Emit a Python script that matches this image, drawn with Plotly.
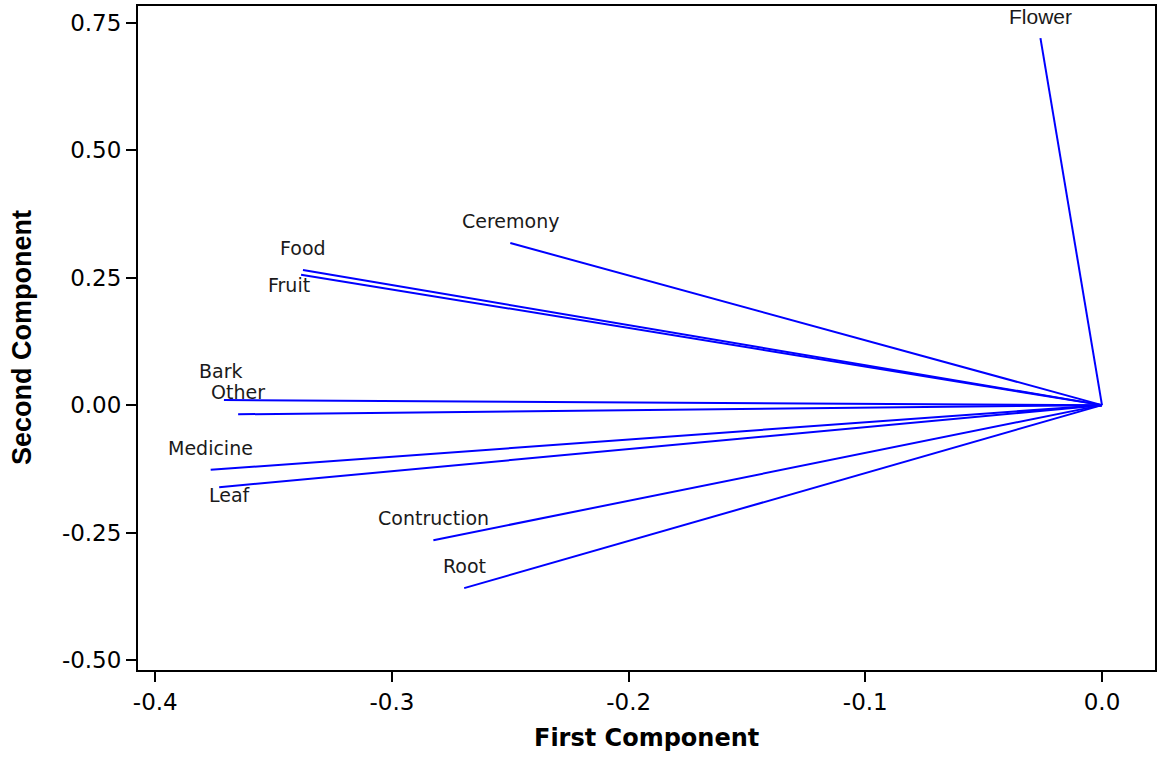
import plotly.graph_objects as go

# Loading vectors (first component, second component)
variables = ["Flower", "Ceremony", "Food", "Fruit", "Bark", "Other",
             "Medicine", "Leaf", "Contruction", "Root"]
first_comp = [-0.026, -0.250, -0.3376, -0.3384, -0.371, -0.365,
              -0.3766, -0.373, -0.2825, -0.2695]
second_comp = [0.720, 0.318, 0.265, 0.256, 0.010, -0.018,
               -0.127, -0.161, -0.265, -0.359]

x_ticks = [-0.4, -0.3, -0.2, -0.1, 0.0]
y_ticks = [-0.50, -0.25, 0.00, 0.25, 0.50, 0.75]

# label pixel offsets (default: centered above endpoint)
label_shift = {"Fruit": (-12, -10), "Leaf": (11, -8), "Bark": (-3, 29)}

fig = go.Figure()
for name, x, y in zip(variables, first_comp, second_comp):
    fig.add_trace(go.Scatter(x=[0, x], y=[0, y], mode="lines",
                             line=dict(color="#0000FF", width=2),
                             showlegend=False, hoverinfo="skip"))
    dx, dy = label_shift.get(name, (0, 22))
    if name == "Flower":
        f = dict(family="Liberation Sans", size=21, color="#1a1a1a")
    else:
        f = dict(family="DejaVu Sans", size=19, color="#1a1a1a")
    fig.add_annotation(x=x, y=y, text=name, showarrow=False,
                       xshift=dx, yshift=dy, font=f)

axis_common = dict(showline=True, mirror=True, linecolor="black", linewidth=2,
                   ticks="outside", ticklen=10, tickwidth=2, tickcolor="black",
                   showgrid=False, zeroline=False, automargin=False,
                   tickfont=dict(family="DejaVu Sans", size=23, color="black"))

fig.update_layout(
    width=1161, height=757,
    margin=dict(l=138, r=6, t=6, b=87),
    paper_bgcolor="white", plot_bgcolor="white",
    xaxis=dict(range=[-0.4073, 0.0224], tickvals=x_ticks,
               ticktext=[f"{v:.1f}" for v in x_ticks],
               **axis_common),
    yaxis=dict(range=[-0.5196, 0.783], tickvals=y_ticks,
               ticktext=[f"{v:.2f}" for v in y_ticks],
               **axis_common),
)

# axis titles
fig.add_annotation(text="<b>First Component</b>", xref="paper", yref="paper",
                   x=0.5, y=0, yshift=-68, showarrow=False, xanchor="center", yanchor="middle",
                   font=dict(family="DejaVu Sans", size=24, color="black"))
fig.add_annotation(text="<b>Second Component</b>", xref="paper", yref="paper",
                   x=0, y=0.5, xshift=-116, showarrow=False, textangle=-90,
                   xanchor="center", yanchor="middle",
                   font=dict(family="Liberation Sans", size=27, color="black"))

fig.write_html("out.html", config={"displayModeBar": False},
               post_script="document.body.style.margin='0';")
